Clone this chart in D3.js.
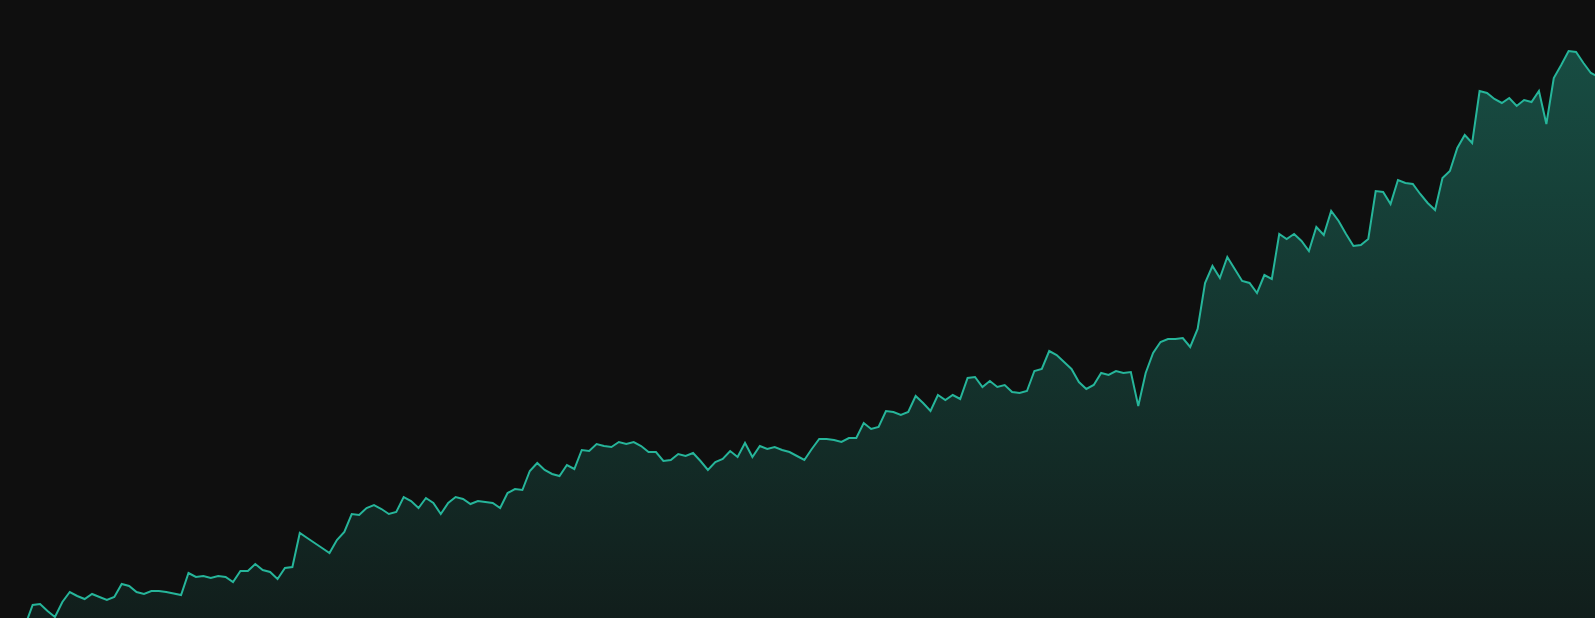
<!DOCTYPE html>
<html>
<head>
<meta charset="utf-8">
<script src="https://cdn.jsdelivr.net/npm/d3@7"></script>
<style>
html,body{margin:0;padding:0;background:#0f0f0f;overflow:hidden;}
svg{display:block;}
</style>
</head>
<body>
<svg id="chart" width="1595" height="618"></svg>
<script>
// Series values (arbitrary units), one per period
const values = [
30,34,32,37.5,
47.5,48,44.5,41.5,49,54,52,50.5,53,51.5,50,51.5,58,57,54,53,54.5,54.5,54,53.3,52.5,
63.5,61.5,62,61,62,61.5,59,64.5,64.5,68,65,64,60.5,66,66.5,83.5,81,78.5,76,73.5,80,84,
93,92.5,96,97.5,95.5,93,94,101.5,99.5,96,101,98.5,93,98.5,101.5,100.5,98,99.5,99,98.5,96,
103.5,105.5,105,114.5,118.5,115,113,112,117.5,115.5,125,124.5,128,127,126.5,129,128,129,127,
124,124,119.5,120,123,122,123.5,119.5,115,119,120.5,124.5,121.5,128.5,121.5,127,125.5,126.5,
125,124,122,120,125.5,130.5,130.5,130,129,131,131,138.5,135.5,136.5,144.5,144,142.5,144,
152,148.5,144.5,152.5,150,152.5,150.5,161,161.5,156.5,159.5,156.5,157.5,154,153.5,154.5,
164.5,165.5,174.5,172.5,169,165.5,159,155.5,157.5,163.5,162.5,164.5,163.5,164,147,163.5,
173.5,179,180.5,180.5,181,176.5,185.5,208.5,217,211,221.5,215.5,209.5,208.5,203.5,212.5,
210.5,233,230.5,233,229.5,224.5,236.5,232.5,244.5,239.5,233,227,227.5,230.5,254.5,254,248,
260,258.5,258,253,248.5,245,261,264.5,276,282.5,278.5,304.5,303.5,300.5,298.5,301,297,300,
299,304.5,288,311,317.5,324.5,324,318.5,313.5,311.5
];
const periods = values.map((_, i) => i);
const valueDomain = [41, 350];

const W = 1595, H = 618;
const lineColor = "#26b59a";

const svg = d3.select("#chart");
const x = d3.scaleLinear().domain([0, periods.length - 1]).range([3.0, 1598.3]);
const y = d3.scaleLinear().domain(valueDomain).range([H, 0]);

const defs = svg.append("defs");
defs.append("clipPath").attr("id","clip").append("rect").attr("width",W).attr("height",H);
const grad = defs.append("linearGradient").attr("id","fillGrad")
  .attr("gradientUnits","userSpaceOnUse")
  .attr("x1",0).attr("x2",0)
  .attr("y1", y(d3.max(values))).attr("y2", H);
grad.append("stop").attr("offset","0%").attr("stop-color",lineColor).attr("stop-opacity",0.37);
grad.append("stop").attr("offset","100%").attr("stop-color",lineColor).attr("stop-opacity",0.09);

const g = svg.append("g").attr("clip-path","url(#clip)");

const area = d3.area()
  .x((d, i) => x(periods[i]))
  .y0(H)
  .y1(d => y(d));
const line = d3.line()
  .x((d, i) => x(periods[i]))
  .y(d => y(d));

g.append("path").datum(values).attr("d", area).attr("fill","url(#fillGrad)");
g.append("path").datum(values).attr("d", line)
  .attr("fill","none").attr("stroke",lineColor).attr("stroke-width",2);
</script>
</body>
</html>
